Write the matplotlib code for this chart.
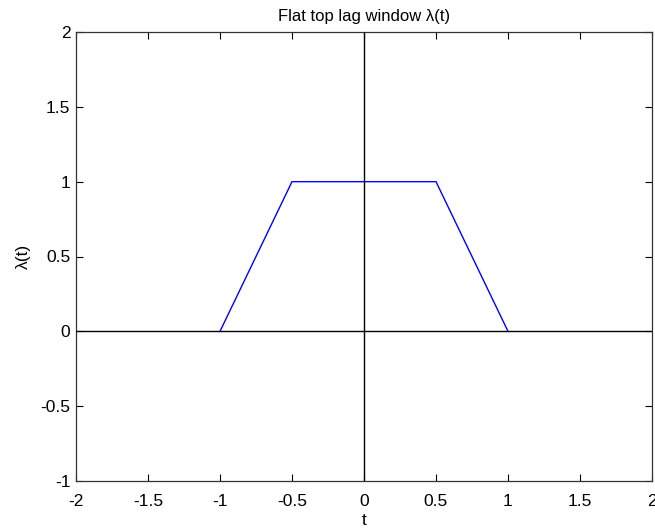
import numpy as np
import matplotlib
matplotlib.use("Agg")
import matplotlib.pyplot as plt

plt.rcParams['font.family'] = ['Liberation Sans', 'DejaVu Sans']

# Flat top lag window: linear taper from |t|=1 to |t|=0.5, flat at 1 inside
t_vals = [-1.0, -0.5, 0.5, 1.0]
lam_vals = [0.0, 1.0, 1.0, 0.0]

x_ticks = [-2, -1.5, -1, -0.5, 0, 0.5, 1, 1.5, 2]
x_labels = ['-2', '-1.5', '-1', '-0.5', '0', '0.5', '1', '1.5', '2']
y_ticks = [-1, -0.5, 0, 0.5, 1, 1.5, 2]
y_labels = ['-1', '-0.5', '0', '0.5', '1', '1.5', '2']

W, H = 655, 531
fig = plt.figure(figsize=(W / 100, H / 100), dpi=100)
ax = fig.add_axes([76 / W, (H - 481) / H, 576 / W, 449 / H])

ax.plot(t_vals, lam_vals, color='#0000ff', lw=1.0, zorder=3)
ax.axhline(0, color='black', lw=1.0, zorder=4)
ax.axvline(0, color='black', lw=1.0, zorder=4)

ax.set_xlim(-2, 2)
ax.set_ylim(-1, 2)
ax.set_xticks(x_ticks)
ax.set_xticklabels(x_labels)
ax.set_yticks(y_ticks)
ax.set_yticklabels(y_labels)
ax.tick_params(direction='in', length=5, width=0.8, top=True, right=True,
               labelsize=12.5, colors='black')
ax.tick_params(axis='x', pad=9)
ax.tick_params(axis='y', pad=4)
for s in ax.spines.values():
    s.set_linewidth(0.9)
    s.set_color('#333333')

ax.set_title('Flat top lag window λ(t)', fontsize=12, pad=8)
ax.set_xlabel('t', fontsize=12.5, labelpad=3)
ax.set_ylabel('λ(t)', fontsize=12.5, labelpad=7)

fig.savefig('out.png', dpi=100, facecolor='white')
